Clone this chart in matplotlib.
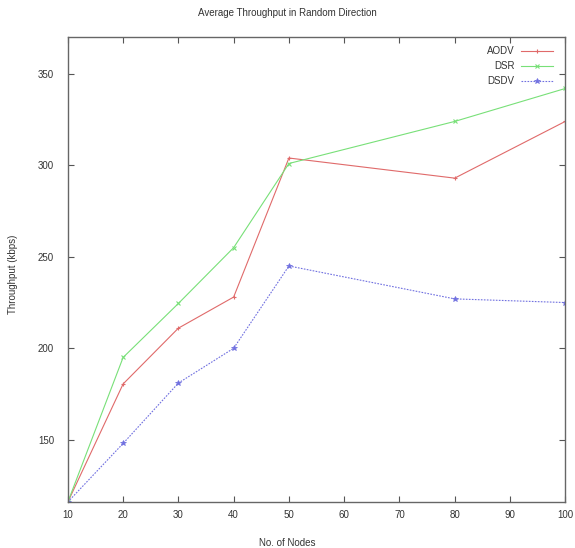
import matplotlib
matplotlib.use("Agg")
import matplotlib.pyplot as plt

nodes = [10, 20, 30, 40, 50, 80, 100]
aodv = [116, 180.5, 211, 228, 304, 293, 324]
dsr = [116, 195, 224.5, 255, 301, 324, 342]
dsdv = [116, 148, 181, 200, 245, 227, 225]
xticks = [10, 20, 30, 40, 50, 60, 70, 80, 90, 100]
yticks = [150, 200, 250, 300, 350]

plt.rcParams['font.family'] = ['Liberation Sans', 'DejaVu Sans']
plt.rcParams['font.size'] = 7

fig = plt.figure(figsize=(5.75, 5.48), dpi=100)
ax = fig.add_axes([0.118, 0.084, 0.865, 0.848])

ax.plot(nodes, aodv, color='#e06a6a', lw=0.8, marker='+', ms=3.5, mew=0.8, label='AODV')
ax.plot(nodes, dsr, color='#78e078', lw=0.8, marker='x', ms=2.8, mew=0.8, label='DSR')
ax.plot(nodes, dsdv, color='#7070e0', lw=0.8, ls=(0, (1.5, 1.2)), marker='*', ms=4,
        mew=0.5, label='DSDV')

ax.set_xlim(10, 100)
ax.set_ylim(116, 370)
ax.set_xticks(xticks)
ax.set_yticks(yticks)
ax.tick_params(direction='in', length=4, width=0.8, top=True, right=True,
               colors='#555555', labelcolor='#333333')
ax.tick_params(axis='x', pad=6)
ax.tick_params(axis='y', pad=10)
for s in ax.spines.values():
    s.set_color('#666666')
    s.set_linewidth(1.0)

fig.text(0.5, 0.976, 'Average Throughput in Random Direction', ha='center', va='center',
         color='#333333')
fig.text(0.5, 0.009, 'No. of Nodes', ha='center', va='center', color='#333333')
fig.text(0.023, 0.5, 'Throughput (kbps)', ha='center', va='center', rotation=90,
         color='#333333')

leg = ax.legend(loc='upper right', bbox_to_anchor=(1.0, 1.008), frameon=False,
                markerfirst=False, handlelength=3.2, labelspacing=0.5,
                borderaxespad=0.9, handletextpad=0.7)
for t in leg.get_texts():
    t.set_color('#333333')

fig.savefig('out.png', dpi=100)
